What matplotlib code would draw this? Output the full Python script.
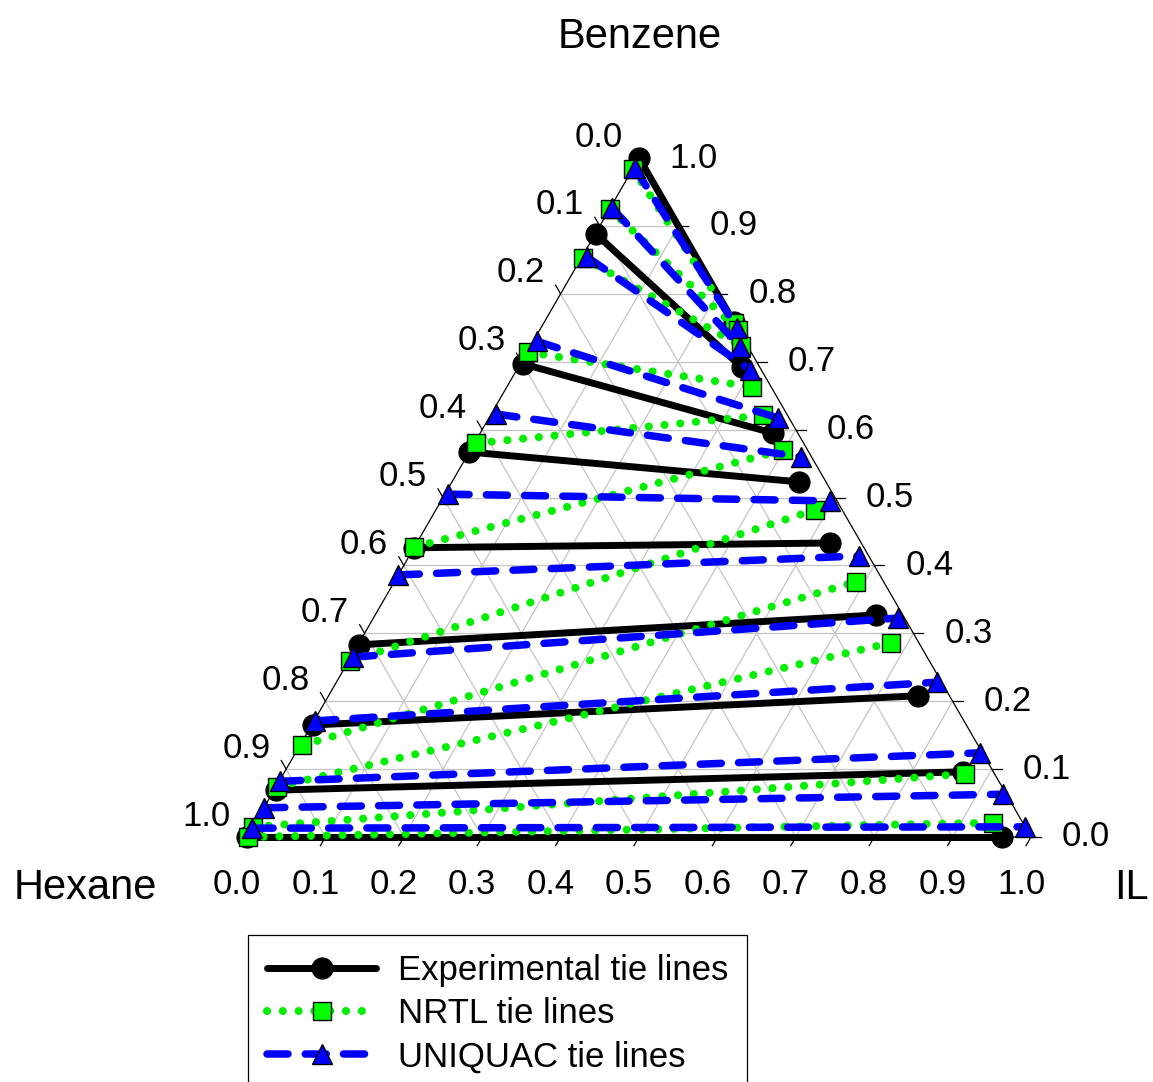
import numpy as np
import matplotlib
matplotlib.use("Agg")
import matplotlib.pyplot as plt

plt.rcParams['font.family'] = ['Liberation Sans', 'DejaVu Sans']

# ---- data: mole fractions (IL, benzene); hexane = 1 - IL - benzene ----
# Experimental tie lines: hexane-rich phase -> IL-rich phase
exp_raf_il = [0.000, 0.001, 0.003, 0.000, 0.000, 0.001, 0.002, 0.002, 0.000]
exp_raf_bz = [1.000, 0.888, 0.697, 0.567, 0.426, 0.283, 0.165, 0.069, 0.000]
exp_ext_il = [0.242, 0.285, 0.373, 0.443, 0.527, 0.639, 0.752, 0.865, 0.963]
exp_ext_bz = [0.758, 0.692, 0.595, 0.523, 0.433, 0.327, 0.208, 0.096, 0.000]

# NRTL tie lines
nrtl_raf_il = [0.000, 0.000, 0.002, 0.001, 0.002, 0.000, 0.002, 0.003, 0.001, 0.000, 0.001]
nrtl_raf_bz = [0.984, 0.925, 0.853, 0.714, 0.580, 0.427, 0.259, 0.135, 0.074, 0.015, 0.000]
nrtl_ext_il = [0.243, 0.253, 0.269, 0.313, 0.348, 0.399, 0.484, 0.589, 0.678, 0.869, 0.941]
nrtl_ext_bz = [0.757, 0.747, 0.723, 0.663, 0.621, 0.570, 0.482, 0.376, 0.286, 0.093, 0.021]

# UNIQUAC tie lines
uq_raf_il = [0.002, 0.003, 0.007, 0.005, 0.006, 0.004, 0.000, 0.003, 0.001, 0.001, 0.000, 0.000]
uq_raf_bz = [0.985, 0.926, 0.854, 0.730, 0.623, 0.505, 0.386, 0.265, 0.171, 0.082, 0.043, 0.013]
uq_ext_il = [0.250, 0.268, 0.298, 0.369, 0.427, 0.496, 0.574, 0.669, 0.766, 0.873, 0.933, 0.985]
uq_ext_bz = [0.750, 0.722, 0.688, 0.617, 0.560, 0.495, 0.414, 0.3225, 0.228, 0.124, 0.063, 0.015]

tick_values = [0.0, 0.1, 0.2, 0.3, 0.4, 0.5, 0.6, 0.7, 0.8, 0.9, 1.0]
tick_labels = ["0.0", "0.1", "0.2", "0.3", "0.4", "0.5", "0.6", "0.7", "0.8", "0.9", "1.0"]
series_labels = ["Experimental tie lines", "NRTL tie lines", "UNIQUAC tie lines"]
apex_labels = ["Hexane", "IL", "Benzene"]

S3 = np.sqrt(3) / 2


def tern(il, bz):
    il = np.asarray(il, float)
    bz = np.asarray(bz, float)
    return il + bz / 2.0, bz * S3


W, H = 1153, 1082
fig = plt.figure(figsize=(W / 100, H / 100), dpi=100)
ax = fig.add_axes([0, 0, 1, 1])
PX = 784.0  # pixels per unit
x0, y0 = 247.0, 837.0
ax.set_xlim(-x0 / PX, (W - x0) / PX)
ax.set_ylim(-(H - y0) / PX, y0 / PX)
ax.axis('off')

# grid
grid_kw = dict(color='#c4c4c4', lw=0.9, zorder=1)
for v in tick_values[1:-1]:
    ax.plot(*tern([0, 1 - v], [v, v]), **grid_kw)
    ax.plot(*tern([v, v], [0, 1 - v]), **grid_kw)
    ax.plot(*tern([1 - v, 0], [0, 1 - v]), **grid_kw)

# triangle edges
ax.plot(*tern([0, 1, 0, 0], [0, 0, 1, 0]), color='black', lw=0.9, zorder=2,
        solid_joinstyle='miter')

# ticks and tick labels
L = 10 / PX
fs_tick = 25
for v, lab in zip(tick_values, tick_labels):
    # bottom: IL fraction
    bx, by = tern(v, 0)
    ax.plot([bx, bx - 0.5 * L], [by, by - S3 * L], color='black', lw=0.9, zorder=2)
    ax.text(bx - 10 / PX, by - 48 / PX, lab, fontsize=fs_tick, ha='center', va='center')
    # right: benzene fraction
    rx, ry = tern(1 - v, v)
    ax.plot([rx, rx + L], [ry, ry], color='black', lw=0.9, zorder=2)
    ax.text(rx + 55 / PX, ry, lab, fontsize=fs_tick, ha='center', va='center')
    # left: hexane fraction
    lx, ly = tern(0, 1 - v)
    ax.plot([lx, lx - 0.5 * L], [ly, ly + S3 * L], color='black', lw=0.9, zorder=2)
    ax.text(lx - 40 / PX, ly + 21 / PX, lab, fontsize=fs_tick, ha='center', va='center')

# apex titles
fs_title = 30
ax.text(-162 / PX, -51 / PX, apex_labels[0], fontsize=fs_title, ha='center', va='center')
ax.text(884 / PX, -51 / PX, apex_labels[1], fontsize=fs_title, ha='center', va='center')
ax.text(393 / PX, 800 / PX, apex_labels[2], fontsize=fs_title, ha='center', va='center')

handles = []


def draw_series(raf_il, raf_bz, ext_il, ext_bz, label, z, **kw):
    h = None
    for a, b, c, d in zip(raf_il, raf_bz, ext_il, ext_bz):
        xs, ys = tern([a, c], [b, d])
        ln, = ax.plot(xs, ys, zorder=z, **kw)
        if h is None:
            h = ln
            ln.set_label(label)
    handles.append(h)


draw_series(exp_raf_il, exp_raf_bz, exp_ext_il, exp_ext_bz, series_labels[0], 3,
            color='black', lw=5.0, solid_capstyle='round',
            marker='o', markersize=15, markerfacecolor='black', markeredgecolor='black')
draw_series(nrtl_raf_il, nrtl_raf_bz, nrtl_ext_il, nrtl_ext_bz, series_labels[1], 4,
            color='#00ee00', lw=5.8, linestyle=(0, (0.01, 1.95)), dash_capstyle='round',
            marker='s', markersize=12.5, markerfacecolor='#00ff00', markeredgecolor='black',
            markeredgewidth=1.0)
draw_series(uq_raf_il, uq_raf_bz, uq_ext_il, uq_ext_bz, series_labels[2], 5,
            color='#0000ff', lw=5.4, linestyle=(0, (2.8, 2.3)), dash_capstyle='round',
            marker='^', markersize=14, markerfacecolor='#0000ff', markeredgecolor='black',
            markeredgewidth=1.0)

leg = ax.legend(handles=handles, loc='upper left',
                bbox_to_anchor=(248 / W, 1 - 935 / H), bbox_transform=fig.transFigure,
                borderaxespad=0, fontsize=25, handlelength=3.15, handletextpad=0.62,
                borderpad=0.55, labelspacing=0.29, numpoints=1, fancybox=False,
                frameon=True, framealpha=1, edgecolor='black')
leg.get_frame().set_linewidth(0.9)

fig.savefig('out.png', dpi=100)
